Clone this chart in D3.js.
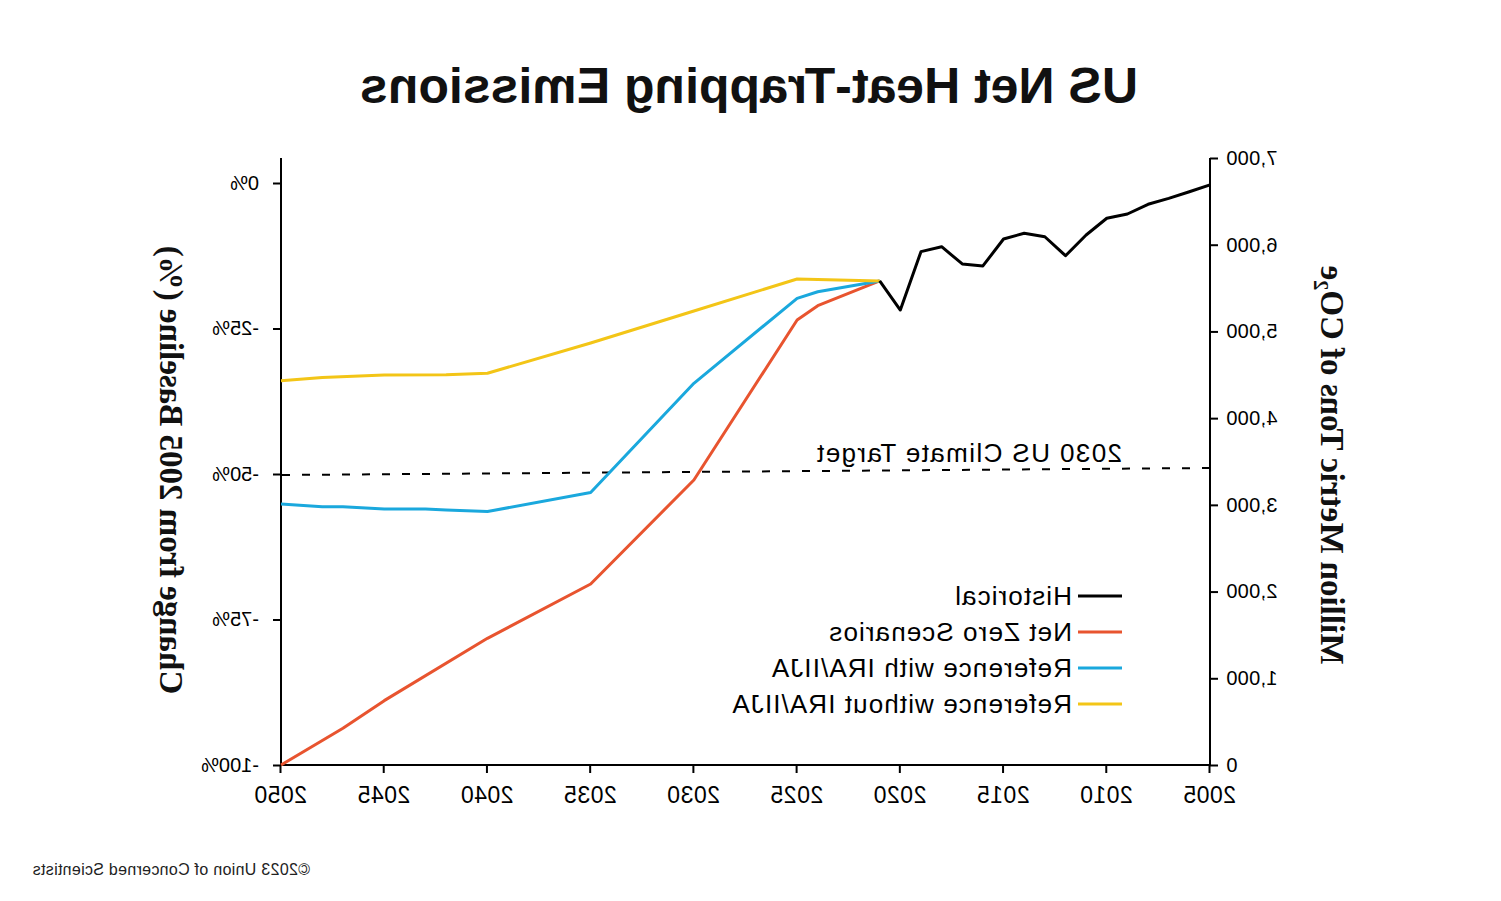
<!DOCTYPE html>
<html><head><meta charset="utf-8">
<script src="https://cdn.jsdelivr.net/npm/d3@7"></script>
<style>body{margin:0;background:#fff}svg{display:block}</style>
</head><body>
<svg id="chart" width="1501" height="901"></svg>
<script>
// ---- data (values in million metric tons CO2e) ----
const histYears  = [2005,2006,2007,2008,2009,2010,2011,2012,2013,2014,2015,2016,2017,2018,2019,2020,2021];
const histValues = [6690,6611,6535,6466,6354,6305,6112,5873,6092,6132,6066,5755,5778,5977,5920,5247,5582];

const netZeroYears  = [2021,2024,2025,2030,2035,2040,2045,2047,2050];
const netZeroValues = [5582,5297,5132,3287,2087,1461,742,423,0];

const withIraYears  = [2021,2024,2025,2030,2035,2040,2042,2043,2045,2047,2048,2050];
const withIraValues = [5582,5458,5382,4402,3143,2923,2941,2952,2952,2979,2979,3010];

const withoutIraYears  = [2021,2023,2025,2030,2035,2040,2042,2045,2048,2050];
const withoutIraValues = [5582,5593,5605,5236,4867,4517,4500,4497,4470,4432];

const targetYears  = [2005,2050];
const targetValues = [3425,3344];

const xTicks = [2005,2010,2015,2020,2025,2030,2035,2040,2045,2050];
const valueTicks = [0,1000,2000,3000,4000,5000,6000,7000];
const pctTicks = [0,-25,-50,-75,-100];

const legendLabels = ["Historical","Net Zero Scenarios","Reference with IRA/IIJA","Reference without IRA/IIJA"];
const colors = ["#000000","#e8542f","#1aa8dd","#f3c517"];

// ---- drawing ----
const svg = d3.select("#chart");
svg.append("rect").attr("width",1501).attr("height",901).attr("fill","#fff");
// The reference picture is horizontally mirrored: draw normally, then flip.
const root = svg.append("g").attr("transform","translate(1501,0) scale(-1,1)");

const sans = "'Liberation Sans', Arial, sans-serif";
const serif = "'Liberation Serif', 'Times New Roman', serif";

const x = d3.scaleLinear().domain([2005,2050]).range([291,1220]);
const yVal = d3.scaleLinear().domain([0,7000]).range([765,158]);
const yPct = d3.scaleLinear().domain([-100,0]).range([765,183]);

// axes
const gx = root.append("g").attr("transform","translate(0,765)")
  .call(d3.axisBottom(x).tickValues(xTicks).tickFormat(d3.format("d")).tickSize(8).tickSizeOuter(0).tickPadding(14));
const gl = root.append("g").attr("transform","translate(291,0)")
  .call(d3.axisLeft(yVal).tickValues(valueTicks).tickFormat(d3.format(",")).tickSize(8).tickSizeOuter(0).tickPadding(8));
const gr = root.append("g").attr("transform","translate(1220,0)")
  .call(d3.axisRight(yPct).tickValues(pctTicks).tickFormat(d => d + "%").tickSize(8).tickSizeOuter(0).tickPadding(14));
[gx,gl,gr].forEach(g => {
  g.select(".domain").remove();
  g.selectAll(".tick line").attr("stroke","#000").attr("stroke-width",2);
  g.selectAll(".tick text").attr("fill","#000").attr("font-family",sans);
});
gx.selectAll(".tick text").attr("font-size",23).attr("letter-spacing",0.5);
gl.selectAll(".tick text").attr("font-size",20).attr("letter-spacing",0.3);
gr.selectAll(".tick text").attr("font-size",20);

// axis lines
root.append("line").attr("x1",x(2005)).attr("x2",x(2050)).attr("y1",yVal(0)).attr("y2",yVal(0)).attr("stroke","#000").attr("stroke-width",2);
root.append("line").attr("x1",x(2005)).attr("x2",x(2005)).attr("y1",yVal(7000)).attr("y2",yVal(0)).attr("stroke","#000").attr("stroke-width",2);
root.append("line").attr("x1",x(2050)).attr("x2",x(2050)).attr("y1",yVal(7000)).attr("y2",yVal(0)).attr("stroke","#000").attr("stroke-width",2);

// target dashed line
const line = d3.line().x(d => x(d[0])).y(d => yVal(d[1]));
root.append("path").datum(d3.zip(targetYears,targetValues)).attr("d",line)
  .attr("fill","none").attr("stroke","#000").attr("stroke-width",2).attr("stroke-dasharray","8,12");
root.append("text").attr("x",379).attr("y",462).attr("font-family",sans).attr("font-size",26)
  .attr("letter-spacing",1.4).attr("fill","#000").text("2030 US Climate Target");

// series
const series = [
  [netZeroYears,netZeroValues,colors[1]],
  [withIraYears,withIraValues,colors[2]],
  [withoutIraYears,withoutIraValues,colors[3]],
  [histYears,histValues,colors[0]]
];
series.forEach(([ys,vs,c]) => {
  root.append("path").datum(d3.zip(ys,vs)).attr("d",line)
    .attr("fill","none").attr("stroke",c).attr("stroke-width",3).attr("stroke-linejoin","round");
});

// legend
const lg = root.append("g");
legendLabels.forEach((t,i) => {
  const yy = 596 + i*36;
  lg.append("line").attr("x1",379).attr("x2",423).attr("y1",yy).attr("y2",yy)
    .attr("stroke",colors[i]).attr("stroke-width",3);
  lg.append("text").attr("x",429).attr("y",yy).attr("dy","0.35em").attr("font-family",sans)
    .attr("font-size",26).attr("letter-spacing",1.1).attr("fill","#000").text(t);
});

// titles
root.append("text").attr("x",752).attr("y",103).attr("text-anchor","middle")
  .attr("font-family",sans).attr("font-weight","bold").attr("font-size",50).attr("fill","#111")
  .text("US Net Heat-Trapping Emissions");

const lt = root.append("text").attr("transform","translate(168,465) rotate(-90)")
  .attr("text-anchor","middle").attr("dy","0.35em").attr("font-family",serif)
  .attr("font-weight","bold").attr("font-size",33).attr("fill","#111");
lt.append("tspan").text("Million Metric Tons of CO");
lt.append("tspan").attr("font-size",20).attr("dy",7).text("2");
lt.append("tspan").attr("dy",-7).text("e");

root.append("text").attr("transform","translate(1329,470) rotate(-90)")
  .attr("text-anchor","middle").attr("dy","0.35em").attr("font-family",serif)
  .attr("font-weight","bold").attr("font-size",33).attr("fill","#111")
  .text("Change from 2005 Baseline (%)");

root.append("text").attr("x",1191).attr("y",875).attr("font-family",sans)
  .attr("font-size",16).attr("letter-spacing",0.3).attr("fill","#222").text("©2023 Union of Concerned Scientists");
</script>
</body></html>
